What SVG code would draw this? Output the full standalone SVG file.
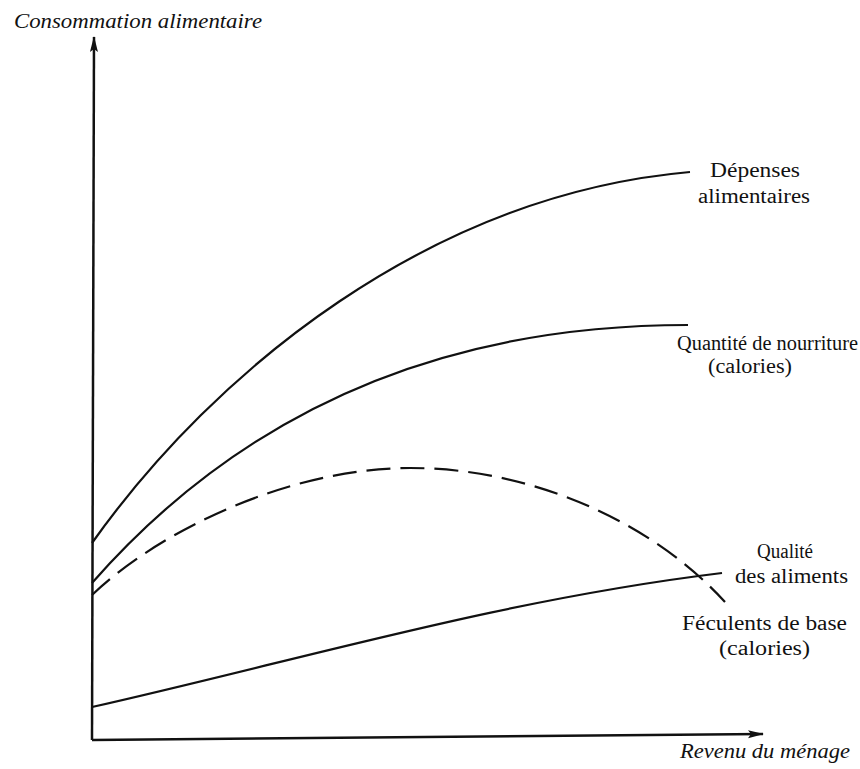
<svg xmlns="http://www.w3.org/2000/svg" width="860" height="769" viewBox="0 0 860 769">
<defs>
<marker id="ah" viewBox="0 0 16 10" refX="15" refY="5" markerWidth="16" markerHeight="10" markerUnits="userSpaceOnUse" orient="auto">
<path d="M0,1 L16,5 L0,9 L3,5 Z" fill="#111"/>
</marker>
</defs>
<style>
.ax{fill:none;stroke:#111;stroke-width:2.5}
.cv{fill:none;stroke:#111;stroke-width:2.2}
.ds{fill:none;stroke:#111;stroke-width:2.2;stroke-dasharray:24 10}
.t{font-family:"Liberation Serif","DejaVu Serif",serif;font-size:20px;fill:#111}
.i{font-family:"Liberation Serif","DejaVu Serif",serif;font-size:20px;font-style:italic;fill:#111}
</style>
<rect width="860" height="769" fill="#fff"/>
<g id="axes">
<path class="ax" d="M92,740 L94,37" marker-end="url(#ah)"/>
<path class="ax" d="M92,740 L763,734" marker-end="url(#ah)"/>
<text class="i" x="14" y="28" textLength="248" lengthAdjust="spacingAndGlyphs">Consommation alimentaire</text>
<text class="i" x="680" y="758" textLength="170" lengthAdjust="spacingAndGlyphs">Revenu du ménage</text>
</g>
<g id="connectors">
<path id="c-depenses" class="cv" d="M92,543 C215,370 430,195 690,172"/>
<path id="c-quantite" class="cv" d="M92,583 C200,460 380,325 688,325"/>
<path id="c-feculents" class="ds" d="M92,595 C160,530 290,468 410,468 C530,468 650,520 725,602"/>
<path id="c-qualite" class="cv" d="M92,707 C300,660 500,600 722,573"/>
</g>
<g id="n-depenses">
<text class="t" x="710" y="177" textLength="90" lengthAdjust="spacingAndGlyphs">Dépenses</text>
<text class="t" x="698" y="203" textLength="112" lengthAdjust="spacingAndGlyphs">alimentaires</text>
</g>
<g id="n-quantite">
<text class="t" x="677" y="350" textLength="181" lengthAdjust="spacingAndGlyphs">Quantité de nourriture</text>
<text class="t" x="708" y="373" textLength="84" lengthAdjust="spacingAndGlyphs">(calories)</text>
</g>
<g id="n-qualite">
<text class="t" x="757" y="558" textLength="56" lengthAdjust="spacingAndGlyphs">Qualité</text>
<text class="t" x="735" y="583" textLength="113" lengthAdjust="spacingAndGlyphs">des aliments</text>
</g>
<g id="n-feculents">
<text class="t" x="682" y="630" textLength="165" lengthAdjust="spacingAndGlyphs">Féculents de base</text>
<text class="t" x="719" y="655" textLength="91" lengthAdjust="spacingAndGlyphs">(calories)</text>
</g>
</svg>
